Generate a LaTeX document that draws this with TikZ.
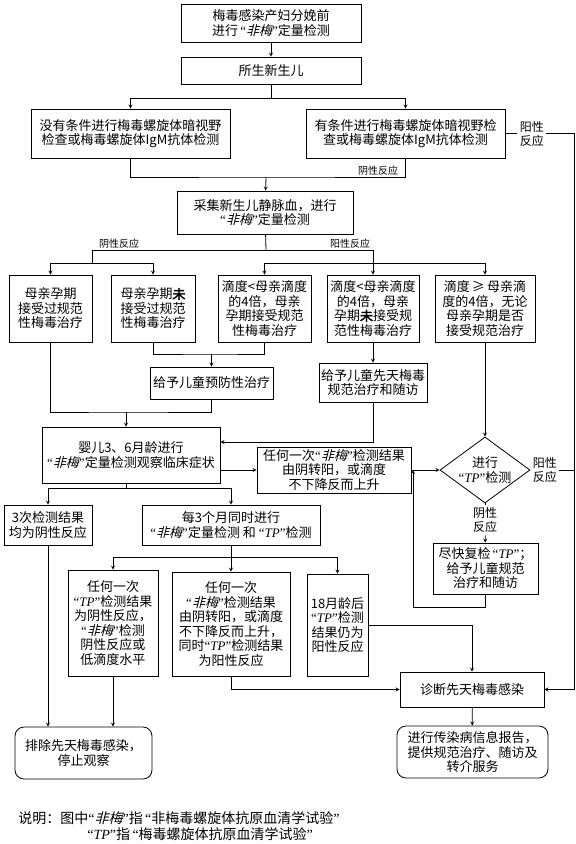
\documentclass[tikz,border=0pt]{standalone}
\usepackage{fontspec}
\setmainfont{Noto Sans CJK SC}
\newfontfamily\slantcjk[FakeSlant=0.25]{Noto Sans CJK SC}
\newfontfamily\boldcjk[FakeBold=2.5]{Noto Sans CJK SC}
\newfontfamily\latinf{Liberation Serif}
\usetikzlibrary{backgrounds,calc,positioning,shapes.geometric}
\newcommand\feimei{{\latinf “}{\slantcjk 非梅}{\latinf ”}}
\newcommand\tpq{{\latinf “\textit{TP}”}}
\newcommand\wei{{\boldcjk 未}}

\begin{document}
\begin{tikzpicture}[x=1pt,y=-1pt,line width=.8pt,>=stealth,
  box/.style={draw,rectangle,inner sep=2pt,align=center,font=\fontsize{13}{14.5}\selectfont},
  rbox/.style={box,rounded corners=9pt},
  lbl/.style={inner sep=2pt,align=center,font=\fontsize{12}{14}\selectfont},
  slbl/.style={inner sep=1pt,font=\fontsize{10}{12}\selectfont}]
  \path[fill=white,use as bounding box] (0,0) rectangle (576,844);
  % top of the chart
  \node[box,minimum width=180pt,minimum height=38pt] (pre) at (271,23) {梅毒感染产妇分娩前\\进行\,\feimei 定量检测};
  \node[box,minimum width=180pt,minimum height=27pt] (baby) at (271,70.5) {所生新生儿};
  \node[box,minimum width=199pt,minimum height=49pt] (noexam) at (130.5,133.5) {没有条件进行梅毒螺旋体暗视野\\检查或梅毒螺旋体IgM抗体检测};
  \node[box,minimum width=199pt,minimum height=49pt] (exam) at (405.5,133.5) {有条件进行梅毒螺旋体暗视野检\\查或梅毒螺旋体IgM抗体检测};
  \node[lbl,right=12pt of exam] (posC) {阳性\\反应};
  \node[slbl] (negC) at (378,171) {阴性反应};
  \node[box,minimum width=176pt,minimum height=43pt] (blood) at (265,212.5) {采集新生儿静脉血，进行\\\feimei 定量检测};
  \node[slbl] (negD) at (119,244) {阴性反应};
  \node[slbl] (posD) at (350,244) {阳性反应};
  % five cases
  \node[box,minimum width=83pt,minimum height=67pt] (treated) at (50.5,308.5) {母亲孕期\\接受过规范\\性梅毒治疗};
  \node[box,minimum width=84pt,minimum height=67pt] (untreated) at (153,308.5) {母亲孕期\wei\\接受过规范\\性梅毒治疗};
  \node[box,minimum width=93pt,minimum height=67pt] (lowtr) at (264.5,308.5) {滴度<母亲滴度\\的4倍，母亲\\孕期接受规范\\性梅毒治疗};
  \node[box,minimum width=92pt,minimum height=67pt] (lowun) at (373,308.5) {滴度<母亲滴度\\的4倍，母亲\\孕期\wei 接受规\\范性梅毒治疗};
  \node[box,minimum width=100pt,minimum height=67pt] (high) at (485,308.5) {滴度\,≥\,母亲滴\\度的4倍，无论\\母亲孕期是否\\接受规范治疗};
  \node[box,minimum width=123pt,minimum height=32pt] (prev) at (211.5,383) {给予儿童预防性治疗};
  \node[box,minimum width=107pt,minimum height=39pt] (treat) at (373,382.5) {给予儿童先天梅毒\\规范治疗和随访};
  % follow up
  \node[box,minimum width=178pt,minimum height=56pt] (follow) at (131,455) {婴儿3、6月龄进行\\\feimei 定量检测观察临床症状};
  \node[box,minimum width=154pt,minimum height=46pt] (rise) at (334,470) {任何一次\feimei 检测结果\\由阴转阳，或滴度\\不下降反而上升};
  \node[draw,diamond,aspect=1.36,minimum width=90pt,minimum height=66pt,inner sep=0pt,align=center,font=\fontsize{13}{14.5}\selectfont] (tp) at (485,470) {进行\\\tpq 检测};
  \node[lbl,right=0pt of tp] (posTP) {阳性\\反应};
  \node[lbl,below=2pt of tp] (negTP) {阴性\\反应};
  \node[box,minimum width=105pt,minimum height=51pt] (recheck) at (485.5,568.5) {尽快复检\,\tpq；\\给予儿童规范\\治疗和随访};
  \node[box,minimum width=88pt,minimum height=40pt] (neg3) at (48,525) {3次检测结果\\均为阴性反应};
  \node[box,minimum width=178pt,minimum height=40pt] (every3) at (231,525) {每3个月同时进行\\\feimei 定量检测 和\ \tpq 检测};
  \node[box,minimum width=90pt,minimum height=106pt] (tpneg) at (113,623) {任何一次\\\tpq 检测结果\\为阴性反应，\\\feimei 检测\\阴性反应或\\低滴度水平};
  \node[box,minimum width=118pt,minimum height=104pt] (conv) at (231,624) {任何一次\\\feimei 检测结果\\由阴转阳，或滴度\\不下降反而上升，\\同时\tpq 检测结果\\为阳性反应};
  \node[box,minimum width=61pt,minimum height=102pt] (tppos) at (337.5,625) {18月龄后\\\tpq 检测\\结果仍为\\阳性反应};
  % outcomes
  \node[rbox,minimum width=137pt,minimum height=52pt] (excl) at (83.5,753) {排除先天梅毒感染，\\停止观察};
  \node[box,minimum width=144pt,minimum height=35pt] (diag) at (472,689.5) {诊断先天梅毒感染};
  \node[rbox,minimum width=151pt,minimum height=52pt] (report) at (472.5,752) {进行传染病信息报告，\\提供规范治疗、随访及\\转介服务};
  \node[anchor=west,inner sep=0pt,font=\fontsize{14}{15}\selectfont] (note1) at (18,818) {说明：图中\feimei 指\,{\latinf “}非梅毒螺旋体抗原血清学试验{\latinf ”}};
  \node[anchor=west,inner sep=0pt,font=\fontsize{14}{15}\selectfont] (note2) at (87,834) {\tpq 指\,{\latinf “}梅毒螺旋体抗原血清学试验{\latinf ”}};
  % junctions
  \coordinate (jB) at (271,98);
  \coordinate (jC) at (266,177);
  \coordinate (jD) at (266,250);
  \coordinate (jNeg) at (92,263);
  \coordinate (jPos) at (373,263);
  \coordinate (jF) at (211.5,354);
  \coordinate (jH) at (126,412);
  \coordinate (jK) at (126,488);
  \coordinate (jM) at (231,557);
  \coordinate (rR) at (574,133.5);
  \coordinate (lp) at (413,607);
  % connectors
  \draw[->] (pre) -- (baby);
  \draw (baby) -- (jB);
  \draw[->] (jB) -| (noexam);
  \draw[->] (jB) -| (exam);
  \draw (noexam) |- (jC) -| (exam);
  \draw[->] (jC) -- (blood);
  \draw (exam) -- (posC);
  \draw[->] (posC) -- (rR) |- (diag);
  \draw (blood) -- (jD);
  \draw (jD) -| (jNeg);
  \draw[->] (jNeg) -| (treated);
  \draw[->] (jNeg) -| (untreated);
  \draw (jD) -| (jPos);
  \draw[->] (jPos) -| (lowtr);
  \draw[->] (jPos) -- (lowun);
  \draw[->] (jPos) -| (high);
  \draw (untreated) |- (jF) -| (lowtr);
  \draw[->] (jF) -- (prev);
  \draw[->] (lowun) -- (treat);
  \draw (treated) |- (jH) -| (prev);
  \draw[->] (jH) -- (jH |- follow.north);
  \draw[->] (treat) |- ([yshift=13pt]follow.east);
  \draw[->] ([yshift=-15pt]follow.east) -- (rise);
  \draw[->] (rise) -- (tp);
  \draw[->] (high) -- (tp);
  \draw (posTP) -- (posTP -| rR);
  \draw (tp) -- (negTP);
  \draw[->] (negTP) -- (recheck);
  \draw[->] (recheck) |- (lp) -- (lp |- rise.east);
  \draw (follow.south -| jK) -- (jK);
  \draw[->] (jK) -| (neg3);
  \draw[->] (jK) -| (every3);
  \draw (every3) -- (jM);
  \draw[->] (jM) -| (tpneg);
  \draw[->] (jM) -- (conv);
  \draw[->] (jM) -| (tppos);
  \draw[->] (neg3) -- (neg3 |- excl.north);
  \draw[->] (tpneg) -- (tpneg |- excl.north);
  \draw[->] (conv) |- (diag);
  \draw[->] (tppos) -| (diag);
  \draw[->] (diag) -- (report);
\end{tikzpicture}
\end{document}
